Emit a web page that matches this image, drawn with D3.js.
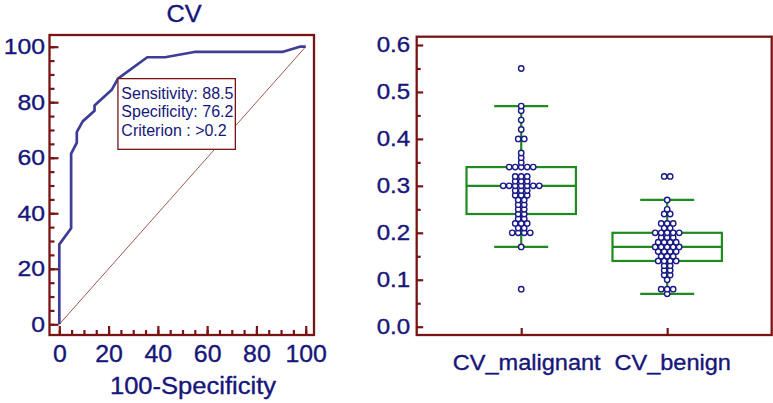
<!DOCTYPE html>
<html>
<head>
<meta charset="utf-8">
<script src="https://cdn.jsdelivr.net/npm/d3@7"></script>
<style>
  html, body { margin: 0; padding: 0; background: #fff; }
  svg { display: block; }
  text { font-family: "Liberation Sans", Arial, Helvetica, sans-serif; fill: #16167a; }
  .heavy { stroke: #16167a; stroke-width: 0.35px; }
</style>
</head>
<body>
<svg id="chart" width="773" height="403"></svg>
<script>
// ---------------- DATA ----------------
const rocTitle = "CV";
const rocXLabel = "100-Specificity";
const rocTicks = [0, 20, 40, 60, 80, 100];
const rocMinorTicks = [0,5,10,15,20,25,30,35,40,45,50,55,60,65,70,75,80,85,90,95,100];
const rocFpr = [0, 0, 4.8, 4.8, 7.1, 7.1, 9.5, 14.3, 14.3, 21.4, 23.8, 35.7, 42.9, 54.8, 90.5, 97.6, 100];
const rocTpr = [0, 28.8, 34.6, 61.5, 65.4, 69.2, 73.1, 76.9, 78.8, 84.6, 88.5, 96.2, 96.2, 98.1, 98.1, 100, 100];
const criterionPoint = [23.8, 88.5];
const annotationLines = ["Sensitivity: 88.5", "Specificity: 76.2", "Criterion : >0.2"];

const categories = ["CV_malignant", "CV_benign"];
const boxTicks = [0.0, 0.1, 0.2, 0.3, 0.4, 0.5, 0.6];
const boxTickLabels = ["0.0", "0.1", "0.2", "0.3", "0.4", "0.5", "0.6"];
const boxMinorTicks = [0.05, 0.15, 0.25, 0.35, 0.45, 0.55];
const q1 = [0.24, 0.14];
const median = [0.30, 0.17];
const q3 = [0.34, 0.20];
const whiskerLow = [0.17, 0.07];
const whiskerHigh = [0.47, 0.27];
const malignantValues = [
  0.08, 0.17, 0.20, 0.20, 0.20, 0.20, 0.21, 0.21, 0.22, 0.22, 0.22, 0.23, 0.23,
  0.24, 0.24, 0.25, 0.25, 0.26, 0.26, 0.27, 0.27, 0.28, 0.28, 0.28, 0.29, 0.29, 0.29,
  0.30, 0.30, 0.30, 0.30, 0.30, 0.30, 0.30, 0.31, 0.31, 0.31, 0.32, 0.32, 0.32,
  0.34, 0.34, 0.34, 0.34, 0.34, 0.35, 0.36, 0.37, 0.40, 0.40, 0.42, 0.44, 0.46, 0.47, 0.55
];
const benignValues = [
  0.07, 0.08, 0.08, 0.08, 0.10, 0.11, 0.11, 0.12, 0.12, 0.13, 0.13,
  0.14, 0.14, 0.14, 0.14, 0.15, 0.15, 0.15, 0.16, 0.16, 0.16, 0.16,
  0.17, 0.17, 0.17, 0.17, 0.17, 0.18, 0.18, 0.18, 0.18, 0.19, 0.19, 0.19,
  0.20, 0.20, 0.20, 0.20, 0.20, 0.21, 0.21, 0.22, 0.22, 0.22, 0.24, 0.24, 0.25, 0.27, 0.32, 0.32
];

// ---------------- STYLE ----------------
const NAVY = "#16167a";
const FRAME = "#7a1414";
const ROC = "#3d3d98";
const DIAG = "#a25a50";
const GREEN = "#1f8a1f";

const svg = d3.select("#chart");

function stretch(sel, factor) {
  sel.each(function () {
    const w = this.getComputedTextLength();
    d3.select(this).attr("textLength", w * factor).attr("lengthAdjust", "spacingAndGlyphs");
  });
}

// ================= LEFT: ROC =================
const L = { left: 49.5, right: 314, top: 35, bottom: 335 };
const x = d3.scaleLinear().domain([0, 100]).range([59.3, 305.7]);
const y = d3.scaleLinear().domain([0, 100]).range([324.3, 46.7]);

const gL = svg.append("g");

// diagonal
gL.append("line")
  .attr("x1", x(0)).attr("y1", y(0)).attr("x2", x(100)).attr("y2", y(100))
  .attr("stroke", DIAG).attr("stroke-width", 1);

// ROC curve
const rocPts = rocFpr.map((f, i) => [f, rocTpr[i]]);
gL.append("path")
  .attr("d", d3.line().x(d => x(d[0])).y(d => y(d[1]))(rocPts))
  .attr("fill", "none").attr("stroke", ROC).attr("stroke-width", 2.7)
  .attr("stroke-linejoin", "round");

// annotation box anchored at criterion point
const bx = x(criterionPoint[0]), by = y(criterionPoint[1]);
gL.append("rect")
  .attr("x", bx).attr("y", by).attr("width", 117.4).attr("height", 70.7)
  .attr("fill", "#fff").attr("stroke", FRAME).attr("stroke-width", 1.3);
gL.selectAll("text.ann").data(annotationLines).join("text")
  .attr("class", "ann")
  .attr("x", bx + 3.4)
  .attr("y", (d, i) => by + 20 + i * 18.7)
  .attr("font-size", 16)
  .text(d => d);

// axes (inward ticks)
const yAxisL = gL.append("g").attr("transform", `translate(${L.left},0)`)
  .call(d3.axisLeft(y).tickValues(rocTicks).tickSize(-9).tickPadding(4.5).tickFormat(d3.format("d")));
const yAxisLm = gL.append("g").attr("transform", `translate(${L.left},0)`)
  .call(d3.axisLeft(y).tickValues(rocMinorTicks).tickSize(-5).tickFormat(""));
const xAxisL = gL.append("g").attr("transform", `translate(0,${L.bottom})`)
  .call(d3.axisBottom(x).tickValues(rocTicks).tickSize(-9).tickPadding(10.5).tickFormat(d3.format("d")));
const xAxisLm = gL.append("g").attr("transform", `translate(0,${L.bottom})`)
  .call(d3.axisBottom(x).tickValues(rocMinorTicks).tickSize(-5).tickFormat(""));
[yAxisL, yAxisLm, xAxisL, xAxisLm].forEach(a => {
  a.select(".domain").remove();
  a.selectAll(".tick line").attr("stroke", FRAME).attr("stroke-width", 2.2);
  a.selectAll("text").attr("fill", NAVY).attr("class", "heavy").attr("font-family", "Liberation Sans, Arial, sans-serif");
});
yAxisL.selectAll("text").attr("font-size", 22.5);
xAxisL.selectAll("text").attr("font-size", 23);

// frame
gL.append("rect")
  .attr("x", L.left).attr("y", L.top).attr("width", L.right - L.left).attr("height", L.bottom - L.top)
  .attr("fill", "none").attr("stroke", FRAME).attr("stroke-width", 2.3);

// title & x label
const titleL = gL.append("text").attr("x", 184).attr("y", 22).attr("text-anchor", "middle")
  .attr("class", "heavy").attr("font-size", 23).text(rocTitle);
const xlabL = gL.append("text").attr("x", 193).attr("y", 394).attr("text-anchor", "middle")
  .attr("class", "heavy").attr("font-size", 23).text(rocXLabel);

stretch(yAxisL.selectAll("text"), 1.1);
stretch(xAxisL.selectAll("text"), 1.08);
stretch(titleL, 1.1);
stretch(xlabL, 1.11);

// ================= RIGHT: BOX + DOT PLOT =================
const R = { left: 416.7, right: 771.7, top: 36.7, bottom: 335 };
const xb = d3.scalePoint().domain(categories).range([R.left, R.right]).padding(0.716);
const yb = d3.scaleLinear().domain([0, 0.6]).range([326.7, 45]);
const gR = svg.append("g");

const boxHalf = 54.7, capHalf = 27;
categories.forEach((c, i) => {
  const cx = xb(c);
  const g = gR.append("g");
  g.append("line").attr("x1", cx).attr("x2", cx).attr("y1", yb(q3[i])).attr("y2", yb(whiskerHigh[i]))
    .attr("stroke", GREEN).attr("stroke-width", 2.2);
  g.append("line").attr("x1", cx).attr("x2", cx).attr("y1", yb(q1[i])).attr("y2", yb(whiskerLow[i]))
    .attr("stroke", GREEN).attr("stroke-width", 2.2);
  [whiskerHigh[i], whiskerLow[i]].forEach(v => {
    g.append("line").attr("x1", cx - capHalf).attr("x2", cx + capHalf).attr("y1", yb(v)).attr("y2", yb(v))
      .attr("stroke", GREEN).attr("stroke-width", 2.2);
  });
  g.append("rect").attr("x", cx - boxHalf).attr("width", 2 * boxHalf)
    .attr("y", yb(q3[i])).attr("height", yb(q1[i]) - yb(q3[i]))
    .attr("fill", "none").attr("stroke", GREEN).attr("stroke-width", 2.2);
  g.append("line").attr("x1", cx - boxHalf).attr("x2", cx + boxHalf).attr("y1", yb(median[i])).attr("y2", yb(median[i]))
    .attr("stroke", GREEN).attr("stroke-width", 2.2);
});

// dots
const dotSpacing = 6;
[malignantValues, benignValues].forEach((vals, i) => {
  const cx = xb(categories[i]);
  const groups = d3.groups(vals, v => v);
  const pts = [];
  groups.forEach(([v, arr]) => {
    const k = arr.length;
    arr.forEach((_, j) => pts.push({ v, dx: (j - (k - 1) / 2) * dotSpacing }));
  });
  gR.append("g").selectAll("circle").data(pts).join("circle")
    .attr("cx", d => cx + d.dx).attr("cy", d => yb(d.v)).attr("r", 2.7)
    .attr("fill", "#fff").attr("stroke", "#1a1a88").attr("stroke-width", 1.4);
});

// axes
const yAxisR = gR.append("g").attr("transform", `translate(${R.left},0)`)
  .call(d3.axisLeft(yb).tickValues(boxTicks).tickSize(-6.5).tickPadding(6.5).tickFormat((d, i) => boxTickLabels[i]));
const yAxisRm = gR.append("g").attr("transform", `translate(${R.left},0)`)
  .call(d3.axisLeft(yb).tickValues(boxMinorTicks).tickSize(-4).tickFormat(""));
const xAxisR = gR.append("g").attr("transform", `translate(0,${R.bottom})`)
  .call(d3.axisBottom(xb).tickSize(-7).tickPadding(19.5));
[yAxisR, yAxisRm, xAxisR].forEach(a => {
  a.select(".domain").remove();
  a.selectAll(".tick line").attr("stroke", FRAME).attr("stroke-width", 2.2);
  a.selectAll("text").attr("fill", NAVY).attr("class", "heavy").attr("font-family", "Liberation Sans, Arial, sans-serif");
});
yAxisR.selectAll("text").attr("font-size", 21.5);
xAxisR.selectAll("text").attr("font-size", 22).attr("dx", 5);

gR.append("rect")
  .attr("x", R.left).attr("y", R.top).attr("width", R.right - R.left).attr("height", R.bottom - R.top)
  .attr("fill", "none").attr("stroke", FRAME).attr("stroke-width", 2.3);

stretch(yAxisR.selectAll("text"), 1.12);
stretch(xAxisR.selectAll("text"), 1.07);
</script>
</body>
</html>
